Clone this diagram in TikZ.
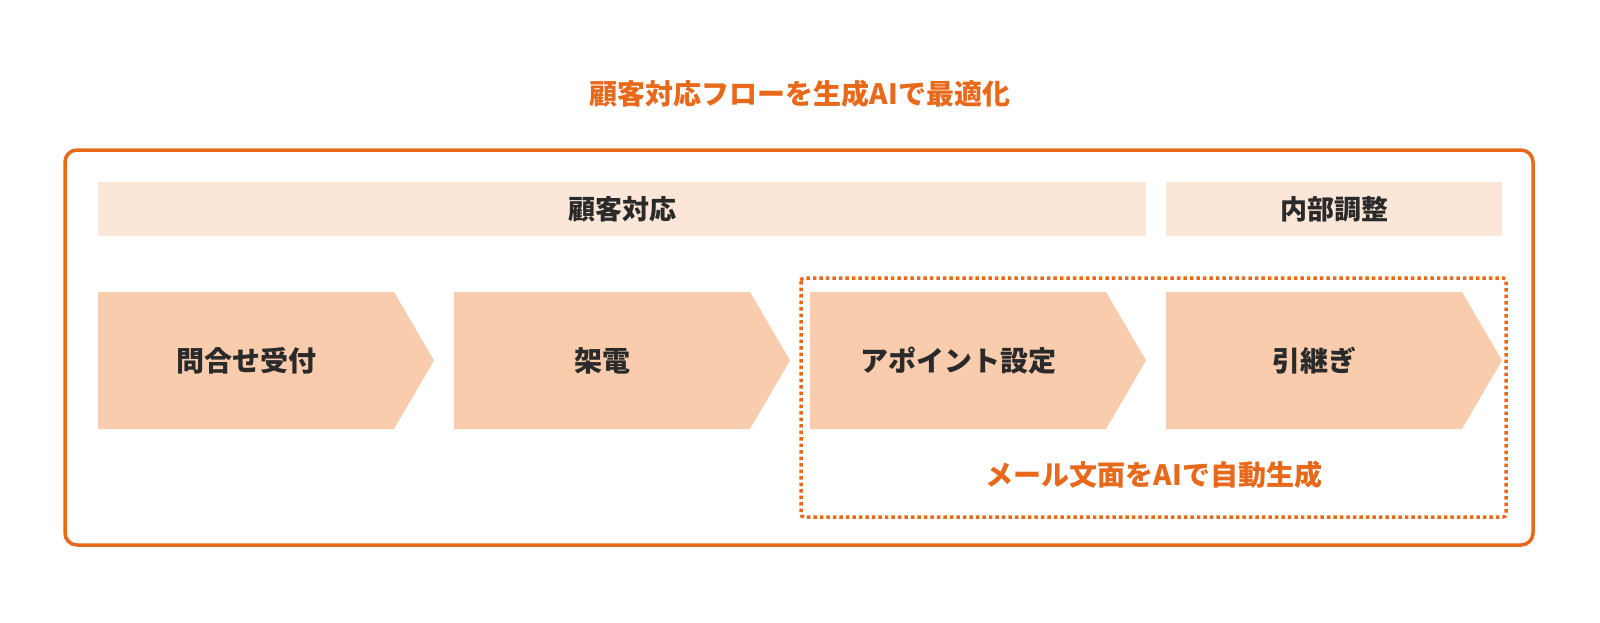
\documentclass[tikz,border=0pt]{standalone}
\usepackage{fontspec}
\setmainfont{Noto Sans CJK JP}
\definecolor{orangeC}{HTML}{E8691A}
\definecolor{bandC}{HTML}{FCE6D7}
\definecolor{chevC}{HTML}{F8CCAD}
\definecolor{textC}{HTML}{2A2A2A}
\begin{document}
\begin{tikzpicture}[x=1pt,y=-1pt,
  frame/.style={draw=orangeC, line width=3.5pt, rounded corners=12pt},
  dotbox/.style={draw=orangeC, line width=3.5pt, dash pattern=on 3.5pt off 3pt, rounded corners=3pt},
  band/.style={fill=bandC},
  chev/.style={fill=chevC},
  titletxt/.style={text=orangeC, font=\bfseries\fontsize{28}{32}\selectfont, inner sep=0pt},
  headtxt/.style={text=textC, font=\bfseries\fontsize{27}{32}\selectfont, inner sep=0pt},
  steptxt/.style={text=textC, font=\bfseries\fontsize{28}{32}\selectfont, inner sep=0pt},
  aitxt/.style={text=orangeC, font=\bfseries\fontsize{28}{32}\selectfont, inner sep=0pt}]
\useasboundingbox (0,0) rectangle (1600,622);
\fill[white] (0,0) rectangle (1600,622);
\node[titletxt] (title) at (800,94) {顧客対応フローを生成AIで最適化};
\draw[frame] (65,150) rectangle (1533,545);
\fill[band] (98,182) rectangle (1146,236);
\node[headtxt] (h1) at (622,209) {顧客対応};
\fill[band] (1166,182) rectangle (1502,236);
\node[headtxt] (h2) at (1334,209) {内部調整};
\foreach \x/\t/\n in {98/問合せ受付/c1, 454/架電/c2, 810/アポイント設定/c3, 1166/引継ぎ/c4} {
  \fill[chev] (\x,292) -- ++(296,0) -- ++(40,68.5) -- ++(-40,68.5) -- ++(-296,0) -- cycle;
  \node[steptxt] (\n) at (\x+148,360.5) {\t};
}
\draw[dotbox] (801,278) rectangle (1506,517);
\node[aitxt] (ai) at (1154,475) {メール文面をAIで自動生成};
\end{tikzpicture}
\end{document}
